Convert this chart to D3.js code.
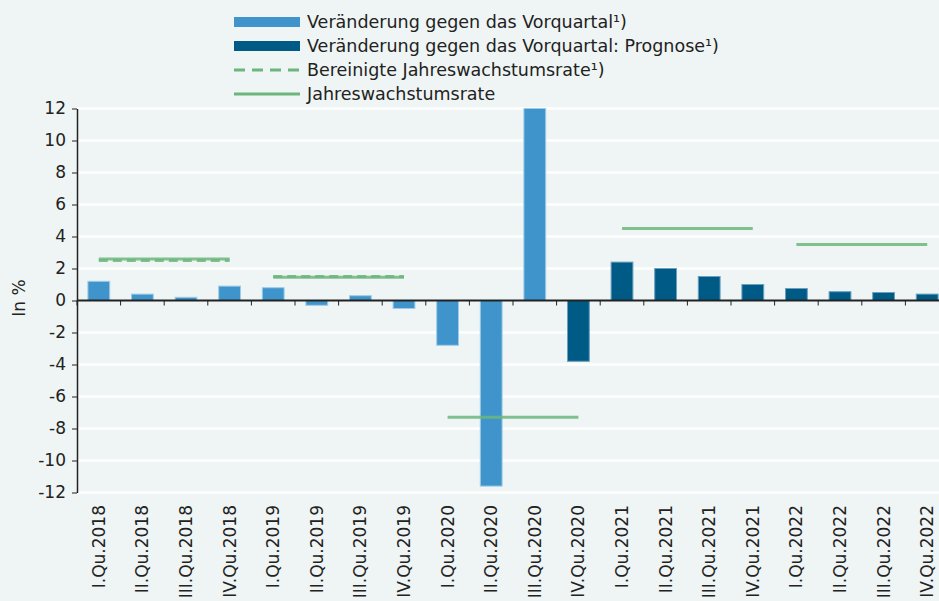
<!DOCTYPE html>
<html lang="de">
<head>
<meta charset="UTF-8">
<title>Veränderung gegen das Vorquartal</title>
<script src="https://d3js.org/d3.v7.min.js"></script>
<style>
  body{ margin:0; background:#eff5f4; }
  svg{ display:block; font-family: "DejaVu Sans", sans-serif; fill:#222; }
  .grid line{ stroke:#ffffff; stroke-width:2.5px; }
  .axis path, .axis line{ stroke:#222; }
  .axis text{ font-size:17px; fill:#222; font-family:"DejaVu Sans", sans-serif; }
  .xaxis text{ font-size:17px; }
</style>
</head>
<body>
<svg width="939" height="601"></svg>
<script>
// quarters on the x axis
let quarters = ["I.Qu.2018","II.Qu.2018","III.Qu.2018","IV.Qu.2018",
                "I.Qu.2019","II.Qu.2019","III.Qu.2019","IV.Qu.2019",
                "I.Qu.2020","II.Qu.2020","III.Qu.2020","IV.Qu.2020",
                "I.Qu.2021","II.Qu.2021","III.Qu.2021","IV.Qu.2021",
                "I.Qu.2022","II.Qu.2022","III.Qu.2022","IV.Qu.2022"];
// change against previous quarter, in %
let qoq = [1.2, 0.4, 0.2, 0.9, 0.8, -0.3, 0.3, -0.5,
           -2.8, -11.6, 12.0, -3.8, 2.4, 2.0, 1.5, 1.0,
           0.75, 0.55, 0.5, 0.4];
// first quarter that is a forecast
let forecastFrom = "IV.Qu.2020";
// annual rates (one per year)
let years = ["2018","2019","2020","2021","2022"];
let annualRate = [2.6, 1.45, -7.3, 4.5, 3.5];
let adjustedRate = [2.5, 1.5, null, null, null];
let yTicks = [-12,-10,-8,-6,-4,-2,0,2,4,6,8,10,12];

let svg = d3.select("svg");
let W = 939, H = 601;
let m = {left:77, right:-10};

let xScale = d3.scaleBand().domain(quarters).range([m.left, W - m.right])
  .paddingInner(0.5).paddingOuter(0.25);
let yScale = d3.scaleLinear().domain([-12, 12]).range([492.5, 108.5]);

// gridlines
svg.append("g").attr("class","grid")
  .selectAll("line").data(yTicks.filter(d => d !== 0)).join("line")
  .attr("x1", m.left).attr("x2", W)
  .attr("y1", d => yScale(d)).attr("y2", d => yScale(d));

// bars
let fIdx = quarters.indexOf(forecastFrom);
svg.append("g").selectAll("rect").data(qoq).join("rect")
  .attr("x", (d,i) => xScale(quarters[i]))
  .attr("width", xScale.bandwidth())
  .attr("y", d => yScale(Math.max(0, d)))
  .attr("height", d => Math.abs(yScale(d) - yScale(0)))
  .attr("fill", (d,i) => i >= fIdx ? "#005a86" : "#3f95cb")
  .attr("stroke", (d,i) => i >= fIdx ? "#6a9fc0" : "#9fcbe8")
  .attr("stroke-width", 1);

// annual rate lines: from centre of Q1 to centre of Q4 of each year
function yearLine(vals, dashed){
  let segs = years.map((y,i) => ({y:y, v:vals[i]})).filter(d => d.v !== null);
  svg.append("g").selectAll("line").data(segs).join("line")
    .attr("x1", d => xScale("I.Qu." + d.y) + xScale.bandwidth()/2)
    .attr("x2", d => xScale("IV.Qu." + d.y) + xScale.bandwidth()/2)
    .attr("y1", d => yScale(d.v)).attr("y2", d => yScale(d.v))
    .attr("stroke", "#6cb67d")
    .attr("stroke-opacity", 0.85)
    .attr("stroke-width", 3)
    .attr("stroke-dasharray", dashed ? "9,5" : null);
}
yearLine(adjustedRate, true);
yearLine(annualRate, false);

// y axis
let yAxis = svg.append("g").attr("class","axis")
  .attr("transform","translate(" + m.left + ",0)")
  .call(d3.axisLeft(yScale).tickValues(yTicks).tickFormat(d => String(d))
    .tickSize(5).tickPadding(6).tickSizeOuter(0));
yAxis.select(".domain").attr("stroke-width", 1.5);

// x axis along zero, ticks at category boundaries
let xAxis = svg.append("g").attr("class","axis xaxis")
  .attr("transform","translate(0," + yScale(0) + ")");
xAxis.append("line").attr("x1", m.left).attr("x2", W)
  .attr("stroke", "#222").attr("stroke-width", 2);
let step = xScale.step();
xAxis.selectAll("line.tk").data(quarters).join("line").attr("class","tk")
  .attr("x1", d => xScale(d) - step*0.25).attr("x2", d => xScale(d) - step*0.25)
  .attr("y1", 0).attr("y2", 5).attr("stroke", "#666");

// x labels, rotated
svg.append("g").attr("class","axis xaxis").selectAll("text").data(quarters).join("text")
  .attr("transform", d => "translate(" + (xScale(d) + xScale.bandwidth()/2 + 6) + ",505) rotate(-90)")
  .attr("text-anchor","end")
  .text(d => d);

// y title
svg.append("text").attr("transform","translate(25,298) rotate(-90)")
  .attr("text-anchor","middle").attr("font-size",17).text("In %");

// legend
let legend = [
  {label:"Veränderung gegen das Vorquartal¹)", type:"bar", color:"#3f95cb"},
  {label:"Veränderung gegen das Vorquartal: Prognose¹)", type:"bar", color:"#005a86"},
  {label:"Bereinigte Jahreswachstumsrate¹)", type:"dash", color:"#6cb67d"},
  {label:"Jahreswachstumsrate", type:"line", color:"#6cb67d"}
];
let lg = svg.append("g").attr("transform","translate(234,22)");
legend.forEach((d,i) => {
  let g = lg.append("g").attr("transform","translate(0," + i*24 + ")");
  if(d.type === "bar"){
    g.append("rect").attr("x",0).attr("y",-5).attr("width",66).attr("height",10).attr("fill",d.color);
  } else {
    g.append("line").attr("x1",0).attr("x2",66).attr("y1",0).attr("y2",0)
      .attr("stroke",d.color).attr("stroke-width",3)
      .attr("stroke-dasharray", d.type === "dash" ? "11,7" : null);
  }
  g.append("text").attr("x",73).attr("y",0).attr("dy","0.35em")
    .attr("font-size",17.5).text(d.label);
});
</script>
</body>
</html>
